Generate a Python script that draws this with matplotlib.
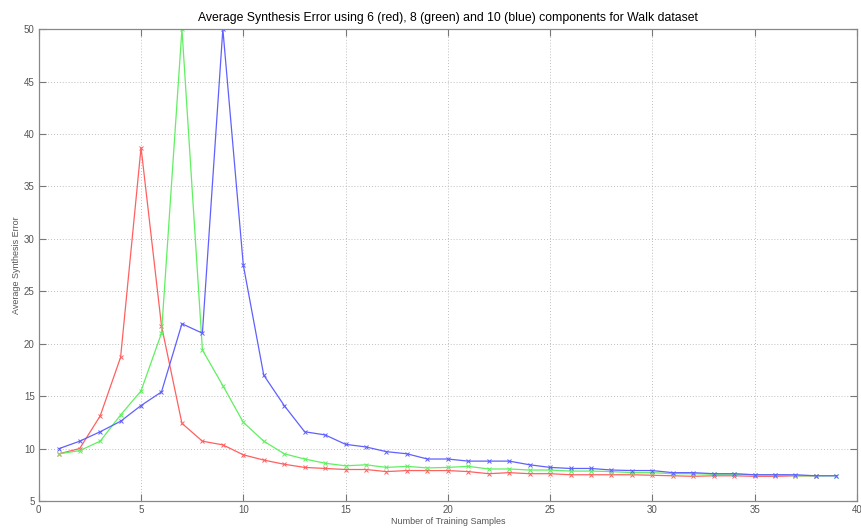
import matplotlib
matplotlib.use("Agg")
import matplotlib.pyplot as plt

# number of training samples
x_red = list(range(1, 39))
x_green = list(range(1, 40))
x_blue = list(range(1, 40))

# 6 components (red)
err_red = [9.5, 10.0, 13.1, 18.7, 38.7, 21.7, 12.4, 10.7, 10.35, 9.4,
           8.9, 8.5, 8.2, 8.1, 8.0, 8.0, 7.8, 7.9, 7.9, 7.9,
           7.8, 7.6, 7.7, 7.6, 7.6, 7.5, 7.5, 7.5, 7.5, 7.45,
           7.4, 7.35, 7.4, 7.4, 7.35, 7.35, 7.4, 7.4]
# 8 components (green)
err_green = [9.5, 9.8, 10.7, 13.2, 15.5, 21.0, 50.0, 19.4, 16.0, 12.5,
             10.7, 9.5, 9.0, 8.6, 8.35, 8.45, 8.2, 8.3, 8.15, 8.2,
             8.3, 8.05, 8.05, 7.95, 7.95, 7.85, 7.85, 7.8, 7.7, 7.7,
             7.6, 7.6, 7.55, 7.55, 7.5, 7.5, 7.4, 7.4, 7.4]
# 10 components (blue)
err_blue = [10.0, 10.7, 11.6, 12.6, 14.1, 15.4, 21.9, 21.0, 50.0, 27.5,
            17.0, 14.1, 11.6, 11.3, 10.4, 10.15, 9.7, 9.5, 9.0, 9.0,
            8.8, 8.8, 8.8, 8.45, 8.2, 8.1, 8.1, 7.95, 7.9, 7.9,
            7.7, 7.7, 7.6, 7.6, 7.5, 7.5, 7.5, 7.4, 7.4]

plt.rcParams['font.family'] = ['Liberation Sans', 'DejaVu Sans']

fig = plt.figure(figsize=(8.62, 5.29), dpi=100)
ax = fig.add_axes([0.045, 0.053, 0.949, 0.892])

style = dict(marker='x', markersize=3, linewidth=0.9, markeredgewidth=0.7)
ax.plot(x_red, err_red, color='#ff6060', **style)
ax.plot(x_green, err_green, color='#60f060', **style)
ax.plot(x_blue, err_blue, color='#6060ff', **style)

ax.set_xlim(0, 40)
ax.set_ylim(5, 50)
ax.set_xticks(range(0, 41, 5))
ax.set_yticks(range(5, 51, 5))
ax.grid(True, linestyle=(0, (1, 2.5)), color='#aaaaaa', linewidth=0.6)
ax.tick_params(direction='in', top=True, right=True, length=5, labelsize=7,
               colors='#777777', labelcolor='#555555', pad=3)
for sp in ax.spines.values():
    sp.set_color('#888888')
    sp.set_linewidth(0.9)

ax.set_title('Average Synthesis Error using 6 (red), 8 (green) and 10 (blue) components for Walk dataset',
             fontsize=8.8, pad=6)
ax.set_xlabel('Number of Training Samples', fontsize=6.5, color='#555555', labelpad=1)
ax.set_ylabel('Average Synthesis Error', fontsize=6.5, color='#555555', labelpad=2)

fig.savefig('out.png', dpi=100)
